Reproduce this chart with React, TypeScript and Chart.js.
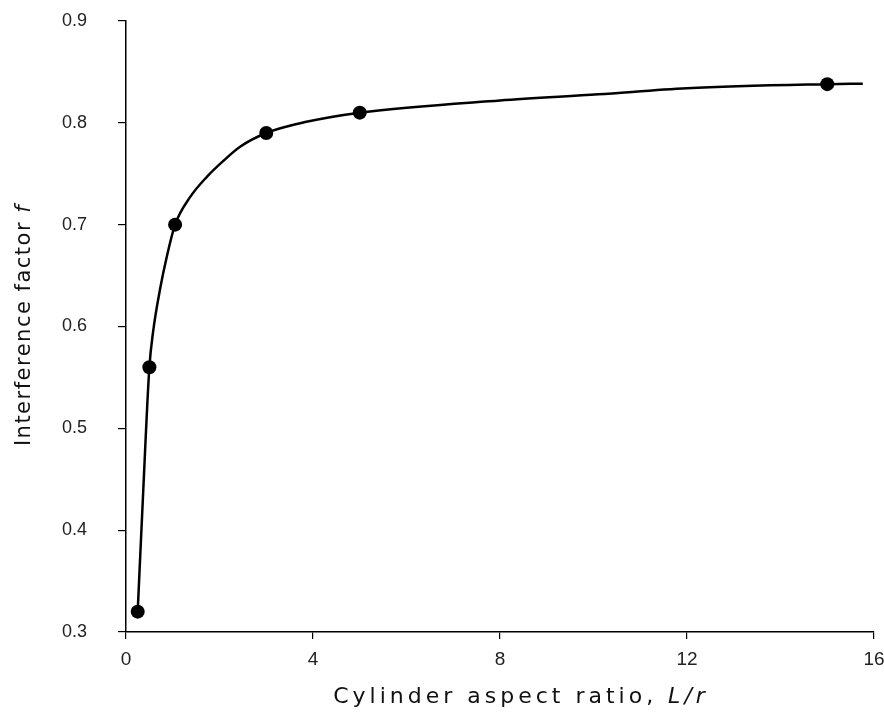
import React, { useEffect, useRef } from "react";
import { Chart, registerables } from "chart.js";

Chart.register(...registerables);

// Measured points (cylinder aspect ratio L/r vs interference factor f)
const markerX = [0.25, 0.5, 1.05, 3, 5, 15];
const markerY = [0.32, 0.56, 0.7, 0.79, 0.81, 0.838];

// Fitted curve
const curveX = [0.25, 0.37, 0.5, 0.58, 0.73, 0.87, 1.05, 1.37, 1.73, 2.08, 2.44, 3, 3.86, 5, 8, 10.1, 12, 15, 15.76];
const curveY = [0.32, 0.44, 0.56, 0.595, 0.637, 0.668, 0.7, 0.727, 0.747, 0.7625, 0.7765, 0.79, 0.801, 0.81, 0.822, 0.828, 0.834, 0.838, 0.8385];

const xTicks = [0, 4, 8, 12, 16];
const yTicks = [0.3, 0.4, 0.5, 0.6, 0.7, 0.8, 0.9];

const xTitleMain = "Cylinder aspect ratio, ";
const xTitleItalic = "L/r";
const yTitleMain = "Interference factor ";
const yTitleItalic = "f";

const titlePlugin = {
  id: "manualTitles",
  afterDraw(chart: any) {
    const ctx = chart.ctx as CanvasRenderingContext2D;
    const area = chart.chartArea;
    ctx.save();
    ctx.fillStyle = "#111";
    ctx.textBaseline = "alphabetic";
    // X title
    (ctx as any).letterSpacing = "4px";
    ctx.font = '22px "DejaVu Sans"';
    const w1 = ctx.measureText(xTitleMain).width;
    ctx.font = 'italic 22px "DejaVu Sans"';
    const w2 = ctx.measureText(xTitleItalic).width;
    const cx = (area.left + area.right) / 2 + 21;
    const startX = cx - (w1 + w2) / 2;
    ctx.textAlign = "left";
    ctx.font = '22px "DejaVu Sans"';
    ctx.fillText(xTitleMain, startX, 703);
    ctx.font = 'italic 22px "DejaVu Sans"';
    ctx.fillText(xTitleItalic, startX + w1, 703);

    // Y title
    (ctx as any).letterSpacing = "1.5px";
    ctx.font = '21px "DejaVu Sans"';
    const v1 = ctx.measureText(yTitleMain).width;
    ctx.font = 'italic 21px "DejaVu Sans"';
    const v2 = ctx.measureText(yTitleItalic).width;
    const cy = 325;
    ctx.translate(30, cy);
    ctx.rotate(-Math.PI / 2);
    const sx = -(v1 + v2) / 2;
    ctx.font = '21px "DejaVu Sans"';
    ctx.fillText(yTitleMain, sx, 0);
    ctx.font = 'italic 21px "DejaVu Sans"';
    ctx.fillText(yTitleItalic, sx + v1, 0);
    ctx.restore();
  },
};

export default function App() {
  const ref = useRef<HTMLCanvasElement | null>(null);

  useEffect(() => {
    if (!ref.current) return;
    const chart = new Chart(ref.current, {
      type: "scatter",
      data: {
        datasets: [
          {
            label: "curve",
            data: curveX.map((x, i) => ({ x, y: curveY[i] })),
            showLine: true,
            borderColor: "#000",
            borderWidth: 2.5,
            pointRadius: 0,
            cubicInterpolationMode: "monotone",
            fill: false,
          } as any,
          {
            label: "data",
            data: markerX.map((x, i) => ({ x, y: markerY[i] })),
            showLine: false,
            pointRadius: 7,
            pointBackgroundColor: "#000",
            pointBorderColor: "#000",
            pointBorderWidth: 0,
          },
        ],
      },
      options: {
        animation: false,
        responsive: false,
        layout: { padding: { top: 21, right: 10, left: 0, bottom: 0 } },
        plugins: { legend: { display: false }, tooltip: { enabled: false } },
        scales: {
          x: {
            type: "linear",
            min: 0,
            max: 16,
            afterFit: (s: any) => {
              s.height = 81;
              s.paddingLeft = 0;
              s.paddingRight = 0;
            },
            afterBuildTicks: (s: any) => {
              s.ticks = xTicks.map((v) => ({ value: v }));
            },
            ticks: {
              color: "#222",
              font: { family: '"Liberation Sans"', size: 19 },
              padding: 9,
              maxRotation: 0,
            },
            grid: {
              drawOnChartArea: false,
              drawTicks: true,
              tickLength: 7,
              color: "#000",
              lineWidth: 1.2,
            },
            border: { color: "#000", width: 1.5 },
          },
          y: {
            type: "linear",
            min: 0.3,
            max: 0.9,
            afterFit: (s: any) => {
              s.width = 126;
              s.paddingTop = 0;
              s.paddingBottom = 0;
            },
            afterBuildTicks: (s: any) => {
              s.ticks = yTicks.map((v) => ({ value: v }));
            },
            ticks: {
              color: "#222",
              font: { family: '"Liberation Sans"', size: 18 },
              padding: 31,
              callback: (v: any) => Number(v).toFixed(1),
            },
            grid: {
              drawOnChartArea: false,
              drawTicks: true,
              tickLength: 8,
              color: "#000",
              lineWidth: 1.2,
            },
            border: { color: "#000", width: 1.5 },
          },
        },
      },
      plugins: [titlePlugin],
    });
    return () => chart.destroy();
  }, []);

  return (
    <div style={{ position: "fixed", left: 0, top: 0, width: 884, height: 713, background: "#fff" }}>
      <canvas ref={ref} width={884} height={713} style={{ display: "block" }} />
    </div>
  );
}
